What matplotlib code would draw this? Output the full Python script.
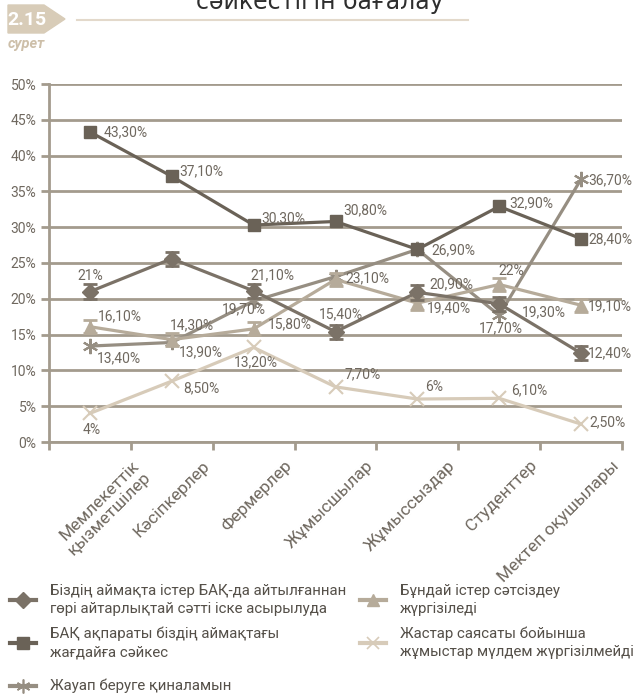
import matplotlib
matplotlib.use("Agg")
import matplotlib.pyplot as plt
from matplotlib.lines import Line2D
from matplotlib.patches import Polygon
import matplotlib.transforms as mtransforms

plt.rcParams['font.family'] = ['Roboto', 'DejaVu Sans']

categories = ["Мемлекеттік\nқызметшілер", "Кәсіпкерлер", "Фермерлер", "Жұмысшылар",
              "Жұмыссыздар", "Студенттер", "Мектеп оқушылары"]

success = [21.0, 25.6, 21.1, 15.4, 20.9, 19.3, 12.4]
media_match = [43.3, 37.1, 30.3, 30.8, 26.9, 32.9, 28.4]
hard_to_say = [13.4, 13.9, 19.7, 23.1, 26.9, 17.7, 36.7]
unsuccessful = [16.1, 14.3, 15.8, 22.7, 19.4, 22.0, 19.1]
no_work = [4.0, 8.5, 13.2, 7.7, 6.0, 6.1, 2.5]

success_lbl = ["21%", "", "21,10%", "15,40%", "20,90%", "19,30%", "12,40%"]
media_lbl = ["43,30%", "37,10%", "30,30%", "30,80%", "26,90%", "32,90%", "28,40%"]
hard_lbl = ["13,40%", "13,90%", "19,70%", "23,10%", "", "17,70%", "36,70%"]
unsucc_lbl = ["16,10%", "14,30%", "15,80%", "", "19,40%", "22%", "19,10%"]
nowork_lbl = ["4%", "8,50%", "13,20%", "7,70%", "6%", "6,10%", "2,50%"]

legend_labels = [
    "Біздің аймақта істер БАҚ-да айтылғаннан\nгөрі айтарлықтай сәтті іске асырылуда",
    "БАҚ ақпараты біздің аймақтағы\nжағдайға сәйкес",
    "Жауап беруге қиналамын",
    "Бұндай істер сәтсіздеу\nжүргізіледі",
    "Жастар саясаты бойынша\nжұмыстар мүлдем жүргізілмейді",
]

# label offsets in pixels (dx, dy, ha)
success_off = [(0, 16, "center"), (0, 0, "left"), (-3, 16, "left"), (5, 17, "center"),
               (12, 8, "left"), (23, -8, "left"), (7, 0, "left")]
media_off = [(14, 0, "left"), (8, 5, "left"), (8, 7, "left"), (8, 11, "left"),
             (14, -1, "left"), (10, 3, "left"), (7, -1, "left")]
hard_off = [(7, -12, "left"), (7, -10, "left"), (-10, -8, "center"), (10, -2, "left"),
            (0, 0, "left"), (2, -13, "center"), (7, -1, "left")]
unsucc_off = [(8, 10, "left"), (-2, 14, "left"), (14, 5, "left"), (0, 0, "left"),
              (10, -5, "left"), (12, 13, "center"), (7, -1, "left")]
nowork_off = [(2, -17, "center"), (11, -7, "left"), (2, -15, "center"), (9, 13, "left"),
              (8, 12, "left"), (12, 8, "left"), (8, 2, "left")]

c_success = "#7b7267"
c_media = "#6a6257"
c_hard = "#968e82"
c_unsucc = "#b6ab9a"
c_nowork = "#d7cbb9"
c_grid = "#a39b8d"
c_text = "#6f685f"

W, H = 633, 695
fig = plt.figure(figsize=(W / 100, H / 100), dpi=100)
ax = fig.add_axes([49 / W, 253 / H, 573 / W, 358 / H])

x = list(range(len(categories)))
lw = 2.3

ax.errorbar(x, success, yerr=1.0, color=c_success, lw=lw, marker="D", ms=8,
            capsize=5, elinewidth=2, capthick=2, zorder=5)
ax.plot(x, media_match, color=c_media, lw=lw, marker="s", ms=9, zorder=4)
ax.plot(x, hard_to_say, color=c_hard, lw=lw, marker=(6, 2, 0), ms=11, mew=1.5, zorder=3)
ax.errorbar(x, unsuccessful, yerr=0.9, color=c_unsucc, lw=lw, marker="^", ms=9,
            capsize=5, elinewidth=2, capthick=2, zorder=3)
ax.plot(x, no_work, color=c_nowork, lw=lw, marker="x", ms=10, mew=1.5, zorder=2)

for vals, lbls, offs in [(success, success_lbl, success_off),
                         (media_match, media_lbl, media_off),
                         (hard_to_say, hard_lbl, hard_off),
                         (unsuccessful, unsucc_lbl, unsucc_off),
                         (no_work, nowork_lbl, nowork_off)]:
    for xi, v, t, (dx, dy, ha) in zip(x, vals, lbls, offs):
        if t:
            ax.annotate(t, (xi, v), xytext=(dx, dy), textcoords="offset pixels",
                        ha=ha, va="center", fontsize=10, color=c_text, zorder=6)

ax.set_xlim(-0.5, 6.5)
ax.set_ylim(0, 50)
ax.set_yticks(range(0, 51, 5))
ax.set_yticklabels([f"{v}%" for v in range(0, 51, 5)], fontsize=10, color=c_text)
ax.yaxis.grid(True, color=c_grid, lw=2)
ax.set_axisbelow(True)
ax.tick_params(axis="y", length=6, width=2, color=c_grid, pad=3)
ax.set_xticks([i - 0.5 for i in range(len(categories) + 1)])
ax.set_xticklabels([])
ax.tick_params(axis="x", length=6, width=2, color=c_grid, direction="out")
for s in ["top", "right"]:
    ax.spines[s].set_visible(False)
for s in ["left", "bottom"]:
    ax.spines[s].set_color(c_grid)
    ax.spines[s].set_linewidth(2)

shift = mtransforms.ScaledTranslation(30 / 100, -16 / 100, fig.dpi_scale_trans)
for xi, c in zip(x, categories):
    dx = 12 if "\n" in c else 0
    ax.text(xi, 0, c, rotation=45, ha="right", va="top", rotation_mode="anchor",
            multialignment="right", fontsize=12.5, color=c_text, linespacing=1.1,
            transform=mtransforms.blended_transform_factory(ax.transData, ax.transAxes) + shift
            + mtransforms.ScaledTranslation(dx / 100, 0, fig.dpi_scale_trans))

# legend, drawn as two columns of entries of equal height
handles = [
    dict(color=c_success, marker="D", ms=8),
    dict(color=c_media, marker="s", ms=9),
    dict(color=c_hard, marker=(6, 2, 0), ms=10, mew=1.2),
    dict(color=c_unsucc, marker="^", ms=8),
    dict(color=c_nowork, marker="x", ms=9, mew=1.2),
]
slots = [(10, 50, 600), (10, 50, 643), (10, 50, 686), (360, 400, 600), (360, 400, 643)]
for h, lbl, (hx, tx, cy) in zip(handles, legend_labels, slots):
    fig.add_artist(Line2D([hx / W, (hx + 26) / W], [1 - cy / H, 1 - cy / H],
                          transform=fig.transFigure, lw=3,
                          **{k: v for k, v in h.items() if k == "color"}))
    fig.add_artist(Line2D([(hx + 13) / W], [1 - cy / H], transform=fig.transFigure,
                          lw=0, **h))
    fig.text(tx / W, 1 - cy / H, lbl, fontsize=10.8, color="#555049", ha="left",
             va="center", linespacing=1.35)

# header
badge = Polygon([(8 / W, 1 - 5 / H), (44 / W, 1 - 5 / H), (65 / W, 1 - 19 / H),
                 (44 / W, 1 - 33 / H), (8 / W, 1 - 33 / H)], closed=True,
                transform=fig.transFigure, color="#d8ccb8")
fig.add_artist(badge)
fig.text(27 / W, 1 - 20 / H, "2.15", color="white", fontsize=14, fontweight="bold",
         ha="center", va="center")
fig.text(8 / W, 1 - 44 / H, "сурет", color="#cdbfa9", fontsize=10.5, style="italic",
         fontweight="bold", ha="left", va="center")
fig.add_artist(Line2D([77 / W, 468 / W], [1 - 20 / H, 1 - 20 / H],
                      transform=fig.transFigure, color="#e3d9cb", lw=1.5))
fig.text(320 / W, 1 - 9 / H, "сәйкестігін бағалау", color="#2e2e2e", fontsize=17,
         family="DejaVu Sans", ha="center", va="baseline")

fig.savefig("out.png", dpi=100)
